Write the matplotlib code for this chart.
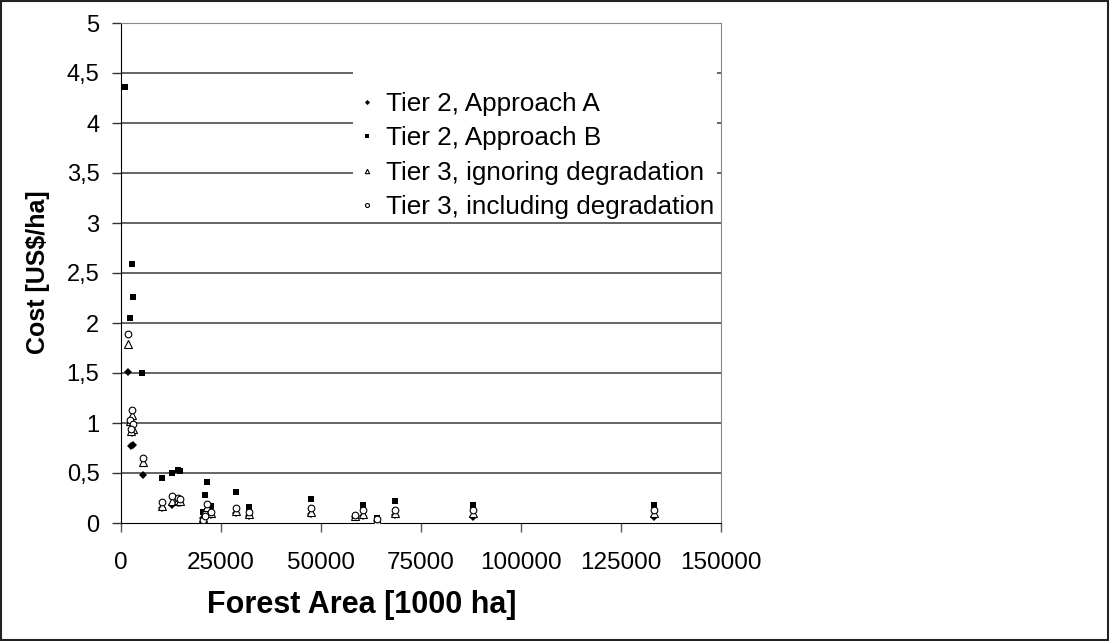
import numpy as np
import matplotlib
matplotlib.use('Agg')
from matplotlib import pyplot as plt
from matplotlib.patches import Rectangle

plt.rcParams['font.family'] = ['Liberation Sans', 'DejaVu Sans']

# forest area [1000 ha] and cost [US$/ha]
a_x = [1750, 2500, 3000, 2750, 5500, 10250, 12750, 14250, 14750, 20500, 21000,
       21500, 22500, 28750, 32000, 47500, 58500, 60500, 64000, 68500, 88000, 133250]
a_y = [1.51, 0.77, 0.78, 0.90, 0.48, 0.15, 0.18, 0.20, 0.20, 0.05, 0.10,
       0.12, 0.08, 0.10, 0.07, 0.09, 0.06, 0.07, 0.02, 0.08, 0.06, 0.06]

b_x = [1000, 2250, 2750, 3000, 5250, 10250, 12750, 14250, 14750, 20500, 21000,
       21500, 22500, 28750, 32000, 47500, 60500, 64000, 68500, 88000, 133250]
b_y = [4.36, 2.05, 2.59, 2.26, 1.50, 0.45, 0.50, 0.53, 0.52, 0.11, 0.28,
       0.41, 0.17, 0.31, 0.16, 0.24, 0.18, 0.05, 0.22, 0.18, 0.18]

t_x = [1750, 2250, 2750, 3000, 2500, 5500, 10250, 12750, 14250, 14750, 20500, 21000,
       21500, 22500, 28750, 32000, 47500, 58500, 60500, 64000, 68500, 88000, 133250]
t_y = [1.79, 1.02, 1.08, 0.94, 0.92, 0.61, 0.17, 0.22, 0.23, 0.22, 0.05, 0.12,
       0.16, 0.10, 0.12, 0.09, 0.11, 0.07, 0.09, 0.03, 0.10, 0.10, 0.10]

c_x = [1750, 2750, 2250, 3000, 2500, 5500, 10250, 12750, 14250, 14750, 20500, 21000,
       21500, 22500, 28750, 32000, 47500, 58500, 60500, 64000, 68500, 88000, 133250]
c_y = [1.89, 1.13, 1.03, 0.99, 0.94, 0.65, 0.21, 0.27, 0.25, 0.24, 0.03, 0.07,
       0.19, 0.11, 0.15, 0.11, 0.15, 0.08, 0.13, 0.04, 0.13, 0.13, 0.13]

labels = ['Tier 2, Approach A', 'Tier 2, Approach B',
          'Tier 3, ignoring degradation', 'Tier 3, including degradation']
xticks = [0, 25000, 50000, 75000, 100000, 125000, 150000]
yticks = [0, 0.5, 1, 1.5, 2, 2.5, 3, 3.5, 4, 4.5, 5]
ytick_labels = ['0', '0,5', '1', '1,5', '2', '2,5', '3', '3,5', '4', '4,5', '5']

fig = plt.figure(figsize=(11.1, 6.41), dpi=100)
ax = fig.add_axes([121/1110, 118/641, 600/1110, 500/641])

for yv in yticks[1:]:
    ax.axhline(yv, color='#3a3a3a', lw=1.1, zorder=1)

ax.plot(a_x, a_y, 'D', color='black', ms=4.4, mew=0, label=labels[0], zorder=3)
ax.plot(b_x, b_y, 's', color='black', ms=4.8, mew=0, label=labels[1], zorder=3)
ax.plot(t_x, t_y, '^', mfc='white', mec='black', ms=5.2, mew=0.8, label=labels[2], zorder=4)
ax.plot(c_x, c_y, 'o', mfc='white', mec='black', ms=4.8, mew=0.8, label=labels[3], zorder=5)

ax.set_xlim(0, 150000)
ax.set_ylim(0, 5)
ax.set_xticks(xticks)
ax.set_xticklabels([str(v) for v in xticks])
ax.set_yticks(yticks)
ax.set_yticklabels(ytick_labels)
ax.tick_params(axis='x', direction='out', length=6.5, width=1, color='#555555',
               pad=14.5, labelsize=17.5)
ax.tick_params(axis='y', direction='out', length=6.5, width=1, color='#333333',
               pad=9, labelsize=17)

ax.spines['left'].set_color('black')
ax.spines['bottom'].set_color('black')
ax.spines['right'].set_color('#888888')
ax.spines['top'].set_color('#888888')

fig.text(362/1110, 1 - 605/641, 'Forest Area [1000 ha]', fontsize=22, fontweight='bold',
         ha='center', va='center')
fig.text(38/1110, 1 - 272/641, 'Cost [US$/ha]', fontsize=18, fontweight='bold',
         ha='center', va='center', rotation=90)

# white box behind the legend (gridlines stop at its edges)
ax.add_patch(Rectangle(((353 - 121) / 600, (523 - 216) / 500), 364 / 600, 154 / 500,
                       transform=ax.transAxes, facecolor='white', edgecolor='none',
                       zorder=2))
leg = ax.legend(loc='upper left', bbox_to_anchor=((353 - 121) / 600, (523 - 84) / 500),
                frameon=False, fontsize=18.8, markerscale=0.6, handlelength=0.5,
                handletextpad=0.45, labelspacing=0.4, borderpad=0.3, borderaxespad=0)

fig.patches.append(Rectangle((0.001, 0.002), 0.997, 0.996, transform=fig.transFigure,
                             fill=False, edgecolor='#222222', lw=1.5))

plt.savefig('out.png', dpi=100)
